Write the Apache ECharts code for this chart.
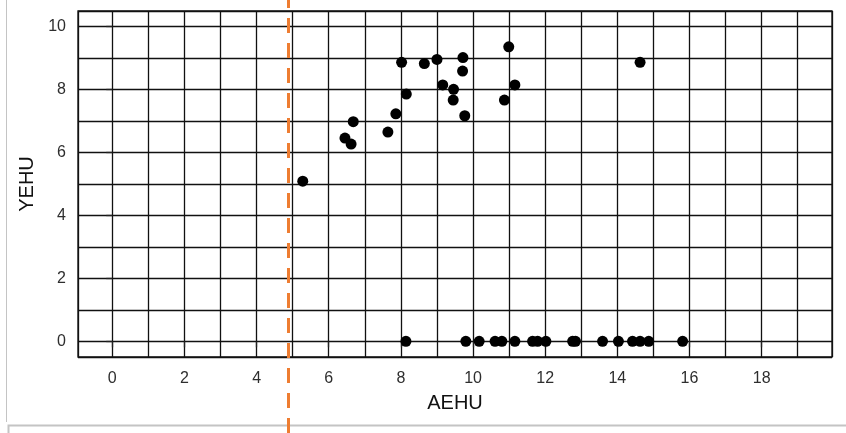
<!DOCTYPE html>
<html>
<head>
<meta charset="utf-8">
<script src="https://cdn.jsdelivr.net/npm/echarts@6/dist/echarts.min.js"></script>
<style>
html,body{margin:0;padding:0;background:#fff;}
#chart{width:846px;height:433px;}
</style>
</head>
<body>
<div id="chart"></div>
<script>
// Data
const aehu = [5.28, 6.45, 6.62, 6.68, 7.64, 7.86, 8.02, 8.15, 8.65, 9.00, 9.16, 9.46, 9.45, 9.72, 9.71, 9.77, 10.99, 10.87, 11.16, 14.63,
              8.14, 9.80, 10.17, 10.61, 10.80, 11.16, 11.65, 11.79, 12.02, 12.76, 12.84, 13.59, 14.03, 14.42, 14.63, 14.87, 15.81];
const yehu = [5.09, 6.46, 6.27, 6.98, 6.65, 7.23, 8.87, 7.86, 8.83, 8.96, 8.15, 8.01, 7.67, 9.02, 8.59, 7.17, 9.36, 7.67, 8.15, 8.87,
              0, 0, 0, 0, 0, 0, 0, 0, 0, 0, 0, 0, 0, 0, 0, 0, 0];
const xTickLabels = [0, 2, 4, 6, 8, 10, 12, 14, 16, 18];
const yTickLabels = [0, 2, 4, 6, 8, 10];
const cutoffX = 4.88;
const xRange = [-0.95, 19.95];
const yRange = [-0.5, 10.5];

const points = aehu.map((x, i) => [x, yehu[i]]);
const font = '"Liberation Sans", Arial, sans-serif';
const gridLineColor = '#111';

const chart = echarts.init(document.getElementById('chart'), null, {renderer: 'canvas'});
chart.setOption({
  animation: false,
  backgroundColor: '#fff',
  graphic: [
    {type: 'line', shape: {x1: 6.5, y1: 0, x2: 6.5, y2: 422}, style: {stroke: '#c4c4c4', lineWidth: 1}, silent: true},
    {type: 'rect', shape: {x: 8.5, y: 425.5, width: 900, height: 30}, style: {fill: 'none', stroke: '#c4c4c4', lineWidth: 2}, silent: true}
  ],
  grid: [
    {left: 78, right: 14, top: 11, bottom: 76, show: true, borderColor: gridLineColor, borderWidth: 1.3, backgroundColor: 'transparent'},
    {left: 78, right: 14, top: 0, bottom: 0, show: false}
  ],
  xAxis: [
    {
      type: 'value', gridIndex: 0, min: xRange[0], max: xRange[1], position: 'bottom',
      name: 'AEHU', nameLocation: 'middle', nameGap: 36,
      nameTextStyle: {fontFamily: font, fontSize: 20, color: '#111'},
      axisLine: {show: false},
      axisTick: {show: true, length: 6, customValues: xTickLabels, lineStyle: {color: '#222', width: 1.3}},
      axisLabel: {show: true, customValues: xTickLabels, margin: 14, fontFamily: font, fontSize: 16, color: '#2e2e2e'},
      splitLine: {show: false}
    },
    {
      type: 'value', gridIndex: 0, min: xRange[0], max: xRange[1], position: 'bottom', splitNumber: 20,
      axisLine: {show: false}, axisTick: {show: false}, axisLabel: {show: false},
      splitLine: {show: true, lineStyle: {color: gridLineColor, width: 1.3}}
    },
    {
      type: 'value', gridIndex: 1, min: xRange[0], max: xRange[1], show: false
    }
  ],
  yAxis: [
    {
      type: 'value', gridIndex: 0, min: yRange[0], max: yRange[1], position: 'left',
      name: 'YEHU', nameLocation: 'middle', nameGap: 41, nameRotate: 90,
      nameTextStyle: {fontFamily: font, fontSize: 20, color: '#111'},
      axisLine: {show: false},
      axisTick: {show: true, length: 6, customValues: yTickLabels, lineStyle: {color: '#222', width: 1.3}},
      axisLabel: {show: true, customValues: yTickLabels, margin: 12, fontFamily: font, fontSize: 16, color: '#2e2e2e'},
      splitLine: {show: false}
    },
    {
      type: 'value', gridIndex: 0, min: yRange[0], max: yRange[1], position: 'left', splitNumber: 11,
      axisLine: {show: false}, axisTick: {show: false}, axisLabel: {show: false},
      splitLine: {show: true, lineStyle: {color: gridLineColor, width: 1.3}}
    },
    {
      type: 'value', gridIndex: 1, min: 0, max: 1, show: false
    }
  ],
  series: [
    {
      type: 'scatter', xAxisIndex: 0, yAxisIndex: 0, data: points,
      symbol: 'circle', symbolSize: 11, itemStyle: {color: '#000', opacity: 1}, z: 5
    },
    {
      type: 'scatter', xAxisIndex: 2, yAxisIndex: 2, data: [], z: 10,
      markLine: {
        silent: true, symbol: ['none', 'none'], label: {show: false},
        lineStyle: {color: '#ee7d31', width: 3, type: [15, 10], opacity: 1},
        data: [{xAxis: cutoffX}]
      }
    }
  ]
});
</script>
</body>
</html>
